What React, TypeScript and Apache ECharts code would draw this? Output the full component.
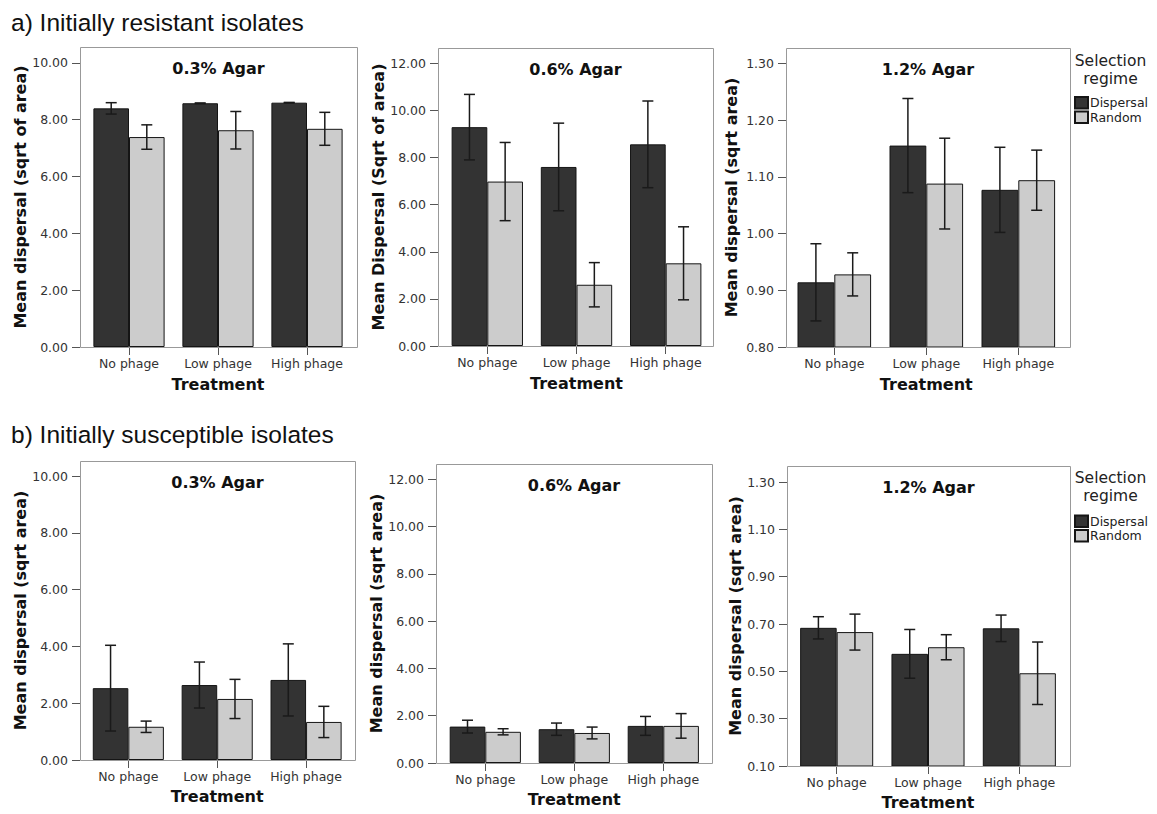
import React, { useEffect, useRef } from 'react';
import * as echarts from 'echarts';

// ---------------- DATA ----------------
const categories = ['No phage', 'Low phage', 'High phage'];
const regimes = ['Dispersal', 'Random'];

// a) Initially resistant isolates
const resA03Dispersal = [8.40, 8.58, 8.60];
const resA03DispersalCI = [0.20, 0.01, 0.01];
const resA03Random = [7.39, 7.63, 7.68];
const resA03RandomCI = [0.43, 0.66, 0.58];

const resA06Dispersal = [9.29, 7.60, 8.56];
const resA06DispersalCI = [1.39, 1.86, 1.84];
const resA06Random = [6.98, 2.60, 3.51];
const resA06RandomCI = [1.66, 0.94, 1.55];

const resA12Dispersal = [0.914, 1.155, 1.077];
const resA12DispersalCI = [0.068, 0.083, 0.075];
const resA12Random = [0.928, 1.088, 1.094];
const resA12RandomCI = [0.038, 0.080, 0.053];

// b) Initially susceptible isolates
const susA03Dispersal = [2.53, 2.64, 2.82];
const susA03DispersalCI = [1.51, 0.81, 1.27];
const susA03Random = [1.17, 2.15, 1.34];
const susA03RandomCI = [0.20, 0.69, 0.55];

const susA06Dispersal = [1.54, 1.43, 1.57];
const susA06DispersalCI = [0.27, 0.26, 0.40];
const susA06Random = [1.32, 1.27, 1.57];
const susA06RandomCI = [0.13, 0.25, 0.52];

const susA12Dispersal = [0.684, 0.574, 0.682];
const susA12DispersalCI = [0.047, 0.103, 0.056];
const susA12Random = [0.666, 0.602, 0.492];
const susA12RandomCI = [0.076, 0.053, 0.132];

// tick labels
const ticks0to10 = [0, 2, 4, 6, 8, 10];
const ticks0to12 = [0, 2, 4, 6, 8, 10, 12];
const ticks080to130 = [0.8, 0.9, 1.0, 1.1, 1.2, 1.3];
const ticks010to130 = [0.1, 0.3, 0.5, 0.7, 0.9, 1.1, 1.3];

const panelTitles = ['0.3% Agar', '0.6% Agar', '1.2% Agar', '0.3% Agar', '0.6% Agar', '1.2% Agar'];
const yTitles = [
  'Mean dispersal (sqrt of area)',
  'Mean Dispersal (Sqrt of area)',
  'Mean dispersal (sqrt area)',
  'Mean dispersal (sqrt area)',
  'Mean dispersal (sqrt area)',
  'Mean dispersal (sqrt area)',
];
const xTitle = 'Treatment';
const legendTitle = ['Selection', 'regime'];
const headings = ['a) Initially resistant isolates', 'b) Initially susceptible isolates'];

const panelData = [
  { d: resA03Dispersal, dci: resA03DispersalCI, r: resA03Random, rci: resA03RandomCI, ticks: ticks0to10, min: 0, max: 10.56 },
  { d: resA06Dispersal, dci: resA06DispersalCI, r: resA06Random, rci: resA06RandomCI, ticks: ticks0to12, min: 0, max: 12.65 },
  { d: resA12Dispersal, dci: resA12DispersalCI, r: resA12Random, rci: resA12RandomCI, ticks: ticks080to130, min: 0.8, max: 1.327 },
  { d: susA03Dispersal, dci: susA03DispersalCI, r: susA03Random, rci: susA03RandomCI, ticks: ticks0to10, min: 0, max: 10.53 },
  { d: susA06Dispersal, dci: susA06DispersalCI, r: susA06Random, rci: susA06RandomCI, ticks: ticks0to12, min: 0, max: 12.65 },
  { d: susA12Dispersal, dci: susA12DispersalCI, r: susA12Random, rci: susA12RandomCI, ticks: ticks010to130, min: 0.1, max: 1.368 },
];

// ---------------- LAYOUT ----------------
// frame left/top/right/bottom, grid left & width, y name gap
const layout = [
  { fl: 80, ft: 47, fr: 357, fb: 347, gl: 84.5, gw: 267, ng: 51 },
  { fl: 438, ft: 48, fr: 713, fb: 346, gl: 442.7, gw: 267.6, ng: 42 },
  { fl: 786, ft: 48, fr: 1070, fb: 347, gl: 788.3, gw: 276, ng: 47 },
  { fl: 80, ft: 461, fr: 355, fb: 760, gl: 83.9, gw: 266.6, ng: 51 },
  { fl: 436, ft: 464, fr: 712, fb: 763, gl: 440.8, gw: 267, ng: 40 },
  { fl: 787, ft: 466, fr: 1070, fb: 766, gl: 791, gw: 274, ng: 43 },
];

const FONT = 'DejaVu Sans';
const DARK = '#333333';
const LIGHT = '#cccccc';
const EDGE = '#151515';

function renderErr(params: any, api: any) {
  const cat = api.value(0);
  const lo = api.value(1);
  const hi = api.value(2);
  const side = api.value(3);
  const band = api.size([1, 0])[0];
  const pLo = api.coord([cat, lo]);
  const pHi = api.coord([cat, hi]);
  const x = pLo[0] + side * band * 0.2;
  const cap = 5.5;
  const st = { stroke: '#1a1a1a', lineWidth: 1.5 };
  return {
    type: 'group',
    children: [
      { type: 'line', shape: { x1: x, y1: pHi[1], x2: x, y2: pLo[1] }, style: st },
      { type: 'line', shape: { x1: x - cap, y1: pHi[1], x2: x + cap, y2: pHi[1] }, style: st },
      { type: 'line', shape: { x1: x - cap, y1: pLo[1], x2: x + cap, y2: pLo[1] }, style: st },
    ],
  };
}

function buildOption() {
  const grid: any[] = [];
  const xAxis: any[] = [];
  const yAxis: any[] = [];
  const series: any[] = [];
  const graphic: any[] = [];

  panelData.forEach((p, i) => {
    const L = layout[i];
    grid.push({ left: L.gl, top: L.ft, width: L.gw, height: L.fb - L.ft, containLabel: false });
    xAxis.push({
      gridIndex: i,
      type: 'category',
      data: categories,
      name: xTitle,
      nameLocation: 'middle',
      nameGap: i < 3 ? 29 : 28,
      nameTextStyle: { fontFamily: FONT, fontSize: 16, fontWeight: 'bold', color: '#111' },
      axisLine: { show: false, onZero: false },
      axisTick: { show: true, alignWithLabel: true, length: 8, lineStyle: { color: '#555', width: 1 } },
      axisLabel: { interval: 0, margin: 10, fontFamily: FONT, fontSize: 12.5, color: '#333' },
      splitLine: { show: false },
    });
    yAxis.push({
      gridIndex: i,
      type: 'value',
      min: p.min,
      max: p.max,
      offset: L.gl - L.fl,
      name: yTitles[i],
      nameLocation: 'middle',
      nameRotate: 90,
      nameGap: L.ng,
      nameTextStyle: { fontFamily: FONT, fontSize: 16, fontWeight: 'bold', color: '#111' },
      axisLine: { show: false },
      axisTick: { show: true, length: 8, lineStyle: { color: '#555', width: 1 }, customValues: p.ticks },
      axisLabel: {
        customValues: p.ticks,
        formatter: (v: number) => v.toFixed(2),
        margin: 12,
        fontFamily: FONT,
        fontSize: 12.5,
        color: '#333',
      },
      splitLine: { show: false },
    });
    series.push({
      type: 'bar',
      name: regimes[0],
      xAxisIndex: i,
      yAxisIndex: i,
      data: p.d,
      barWidth: '40%',
      barGap: '0%',
      itemStyle: { color: DARK, borderColor: EDGE, borderWidth: 1 },
      z: 2,
    });
    series.push({
      type: 'bar',
      name: regimes[1],
      xAxisIndex: i,
      yAxisIndex: i,
      data: p.r,
      barWidth: '40%',
      barGap: '0%',
      itemStyle: { color: LIGHT, borderColor: EDGE, borderWidth: 1 },
      z: 2,
    });
    const errData: any[] = [];
    p.d.forEach((m, k) => errData.push([k, m - p.dci[k], m + p.dci[k], -1]));
    p.r.forEach((m, k) => errData.push([k, m - p.rci[k], m + p.rci[k], 1]));
    series.push({
      type: 'custom',
      name: 'CI',
      xAxisIndex: i,
      yAxisIndex: i,
      data: errData,
      encode: { x: 0, y: [1, 2] },
      renderItem: renderErr,
      z: 5,
      silent: true,
    });

    graphic.push({
      type: 'rect',
      shape: { x: L.fl + 0.5, y: L.ft + 0.5, width: L.fr - L.fl, height: L.fb - L.ft },
      style: { fill: 'none', stroke: '#999', lineWidth: 1 },
      z: 10,
      silent: true,
    });
    graphic.push({
      type: 'text',
      x: (L.fl + L.fr) / 2,
      y: L.ft + 21,
      style: {
        text: panelTitles[i],
        fontFamily: FONT,
        fontSize: 16,
        fontWeight: 'bold',
        fill: '#111',
        align: 'center',
        verticalAlign: 'middle',
      },
      z: 10,
    });
  });

  // headings
  [22.5, 434].forEach((y, k) => {
    graphic.push({
      type: 'text',
      x: 11,
      y,
      style: {
        text: headings[k],
        fontFamily: 'Liberation Sans',
        fontSize: 24.5,
        fill: '#111',
        align: 'left',
        verticalAlign: 'middle',
      },
    });
  });

  // legend titles
  [61, 478].forEach((y) => {
    legendTitle.forEach((t, j) => {
      graphic.push({
        type: 'text',
        x: 1110.5,
        y: y + j * 18,
        style: {
          text: t,
          fontFamily: FONT,
          fontSize: 15.5,
          fill: '#222',
          align: 'center',
          verticalAlign: 'middle',
        },
      });
    });
  });

  const legendBase = {
    data: regimes,
    orient: 'vertical',
    left: 1074,
    itemWidth: 13,
    itemHeight: 11.5,
    itemGap: 1,
    icon: 'rect',
    selectedMode: false,
    padding: 0,
    textStyle: { fontFamily: FONT, fontSize: 12.5, color: '#222', lineHeight: 13, padding: [0, 0, 0, -3] },
  };

  return {
    animation: false,
    backgroundColor: '#ffffff',
    grid,
    xAxis,
    yAxis,
    series,
    graphic,
    legend: [
      { ...legendBase, top: 96 },
      { ...legendBase, top: 514.5 },
    ],
  };
}

export default function App() {
  const ref = useRef<HTMLDivElement>(null);
  useEffect(() => {
    if (!ref.current) return;
    const chart = echarts.init(ref.current, null, { renderer: 'svg' });
    chart.setOption(buildOption() as any);
    return () => {
      chart.dispose();
    };
  }, []);
  return (
    <div
      ref={ref}
      style={{ position: 'absolute', left: 0, top: 0, width: 1157, height: 814, background: '#fff' }}
    />
  );
}
